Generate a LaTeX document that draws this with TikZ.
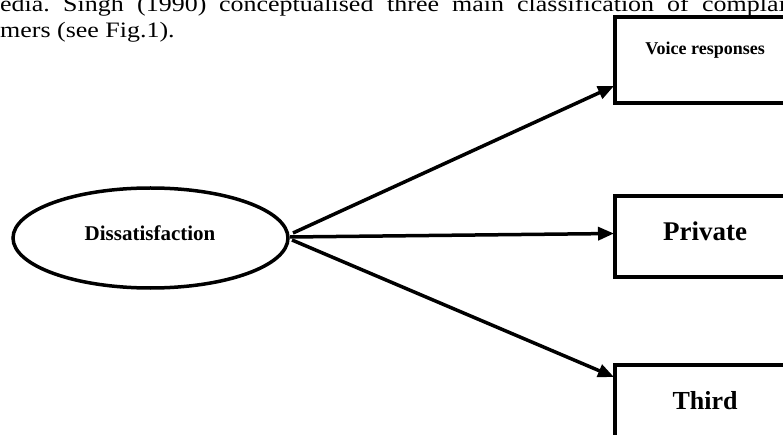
\documentclass[tikz,border=0pt]{standalone}
\usepackage{fontspec}
\setmainfont{Liberation Serif}
\usetikzlibrary{arrows.meta,calc,shapes.geometric}
\newcommand{\bodyword}[1]{\scalebox{1.18}[1]{#1}}
\begin{document}
\begin{tikzpicture}[x=1pt,y=-1pt,
  body/.style={anchor=base west,inner sep=0pt,font=\fontsize{22}{25}\selectfont},
  box/.style={draw,line width=4pt,anchor=north west,inner sep=0pt,outer sep=0pt,minimum width=190pt},
  lab/.style={anchor=base,inner sep=0pt},
  arr/.style={line width=3.5pt,-{Triangle[length=16pt,width=13pt]}}]
\useasboundingbox (0,0) rectangle (783,435);
\clip (0,0) rectangle (783,435);
% running text
\node[body] (w1) at (0,12) {\bodyword{edia.}};
\node[body] (w2) at (63,12) {\bodyword{Singh}};
\node[body] (w3) at (137,12) {\bodyword{(1990)}};
\node[body] (w4) at (219,12) {\bodyword{conceptualised}};
\node[body] (w5) at (387,12) {\bodyword{three}};
\node[body] (w6) at (452,12) {\bodyword{main}};
\node[body] (w7) at (517,12) {\bodyword{classification}};
\node[body] (w8) at (667,12) {\bodyword{of}};
\node[body] (w9) at (702,12) {\bodyword{complai}};
\node[body] (l2) at (0,38) {\bodyword{mers (see Fig.1).}};
% ellipse
\node[draw,ellipse,line width=3.5pt,inner sep=0pt,outer sep=0pt,minimum width=275pt,minimum height=100pt] (dis) at (150.5,238) {};
\node[lab,font=\bfseries\fontsize{21}{24}\selectfont] (dist) at (150,241) {Dissatisfaction};
% boxes
\node[box,minimum height=86pt] (voice) at (615,17) {};
\node[box,minimum height=81pt] (priv) at (615,196) {};
\node[box,minimum height=100pt] (third) at (615,365) {};
\node[lab,font=\bfseries\fontsize{18}{20}\selectfont] (voicet) at (705,55) {Voice responses};
\node[lab,font=\bfseries\fontsize{27}{30}\selectfont] (privt) at (705,241) {Private};
\node[lab,font=\bfseries\fontsize{26}{30}\selectfont] (thirdt) at (705,409) {Third};
% arrows
\draw[arr] ($(dis.east)+(5,-5)$) -- ($(voice.south west)+(-1,-17)$);
\draw[arr] ($(dis.east)+(2,-1)$) -- ($(priv.west)+(-1,-3)$);
\draw[arr] ($(dis.east)+(4,2)$) -- ($(third.north west)+(-1,12)$);
\end{tikzpicture}
\end{document}
